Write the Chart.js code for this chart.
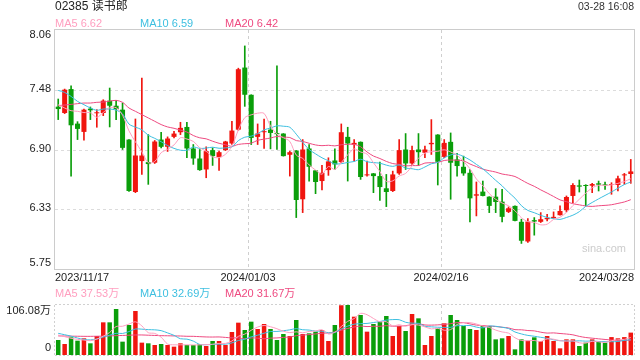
<!DOCTYPE html>
<html>
<head>
<meta charset="utf-8">
<script src="https://cdn.jsdelivr.net/npm/chart.js@4/dist/chart.umd.min.js"></script>
<style>
  body { margin: 0; background: #fff; }
  #wrap { position: relative; width: 640px; height: 360px; }
  canvas { position: absolute; left: 0; }
  #price { top: 0; }
  #volume { top: 280px; }
</style>
</head>
<body>
<div id="wrap">
  <canvas id="price" width="640" height="290"></canvas>
  <canvas id="volume" width="640" height="80"></canvas>
</div>
<script>
// Daily candles, 02385 读书郎
const dates = [
    '2023/11/17','2023/11/20','2023/11/21','2023/11/22','2023/11/23','2023/11/24','2023/11/27','2023/11/28','2023/11/29','2023/11/30',
    '2023/12/01','2023/12/04','2023/12/05','2023/12/06','2023/12/07','2023/12/08','2023/12/11','2023/12/12','2023/12/13','2023/12/14',
    '2023/12/15','2023/12/18','2023/12/19','2023/12/20','2023/12/21','2023/12/22','2023/12/27','2023/12/28','2023/12/29','2024/01/02',
    '2024/01/03','2024/01/04','2024/01/05','2024/01/08','2024/01/09','2024/01/10','2024/01/11','2024/01/12','2024/01/15','2024/01/16',
    '2024/01/17','2024/01/18','2024/01/19','2024/01/22','2024/01/23','2024/01/24','2024/01/25','2024/01/26','2024/01/29','2024/01/30',
    '2024/01/31','2024/02/01','2024/02/02','2024/02/05','2024/02/06','2024/02/07','2024/02/08','2024/02/09','2024/02/14','2024/02/15',
    '2024/02/16','2024/02/19','2024/02/20','2024/02/21','2024/02/22','2024/02/23','2024/02/26','2024/02/27','2024/02/28','2024/02/29',
    '2024/03/01','2024/03/04','2024/03/05','2024/03/06','2024/03/07','2024/03/08','2024/03/11','2024/03/12','2024/03/13','2024/03/14',
    '2024/03/15','2024/03/18','2024/03/19','2024/03/20','2024/03/21','2024/03/22','2024/03/25','2024/03/26','2024/03/27','2024/03/28'
];

const opens = [
    7.319,7.258,7.489,7.155,7.075,7.300,7.255,7.258,7.377,7.328,
    7.290,7.001,6.494,6.793,6.783,6.777,7.001,6.931,7.027,7.072,
    7.123,6.915,6.818,6.712,6.899,6.831,6.899,6.963,7.097,7.697,
    7.434,7.027,7.072,7.097,7.059,7.059,6.854,6.895,6.424,6.915,
    6.703,6.600,6.706,6.799,6.783,7.027,6.953,6.979,6.655,6.674,
    6.648,6.530,6.504,6.674,6.905,6.770,6.905,6.873,6.956,7.049,
    6.834,6.979,6.809,6.738,6.680,6.459,6.498,6.449,6.449,6.401,
    6.302,6.360,6.206,6.016,6.222,6.206,6.231,6.241,6.270,6.318,
    6.456,6.558,6.558,6.555,6.578,6.568,6.562,6.562,6.655,6.668
];
const highs = [
    7.393,7.489,7.521,7.174,7.296,7.316,7.290,7.386,7.499,7.380,
    7.354,7.001,7.200,7.595,7.049,6.992,7.072,7.027,7.081,7.168,
    7.168,6.953,6.905,6.931,6.921,6.889,6.985,7.178,7.691,7.906,
    7.434,7.152,7.200,7.178,7.713,7.059,6.889,6.895,7.001,6.953,
    6.703,6.751,6.825,6.911,7.152,7.120,7.001,6.979,6.793,6.674,
    6.783,6.664,6.696,7.001,7.059,6.937,7.059,6.937,7.194,7.049,
    7.001,7.065,6.867,6.841,6.712,6.591,6.600,6.449,6.527,6.520,
    6.350,6.360,6.231,6.238,6.247,6.295,6.279,6.302,6.360,6.456,
    6.575,6.610,6.565,6.578,6.600,6.591,6.584,6.648,6.674,6.809
];
const lows = [
    7.194,7.252,6.648,7.001,6.995,7.194,7.120,7.232,7.123,7.194,
    6.905,6.501,6.488,6.664,6.568,6.770,6.921,6.886,7.017,7.049,
    6.825,6.761,6.703,6.632,6.751,6.703,6.895,6.953,7.091,7.322,
    6.953,6.953,6.915,6.911,6.905,6.841,6.648,6.247,6.295,6.600,
    6.478,6.514,6.655,6.712,6.777,6.600,6.793,6.616,6.648,6.488,
    6.414,6.353,6.498,6.664,6.712,6.761,6.751,6.825,6.857,6.562,
    6.825,6.424,6.648,6.655,6.206,6.263,6.456,6.295,6.295,6.206,
    6.295,6.215,5.997,6.007,6.077,6.199,6.215,6.241,6.270,6.302,
    6.392,6.494,6.360,6.488,6.504,6.520,6.472,6.504,6.568,6.578
];
const closes = [
    7.296,7.483,7.139,7.104,7.290,7.284,7.261,7.377,7.328,7.296,
    6.921,6.504,6.847,6.847,6.764,6.982,6.931,7.011,7.059,7.114,
    6.915,6.818,6.706,6.889,6.841,6.879,6.982,7.088,7.681,7.434,
    7.017,7.059,7.078,7.065,7.053,6.841,6.879,6.417,6.905,6.738,
    6.591,6.680,6.790,6.761,7.072,6.963,6.969,6.639,6.664,6.648,
    6.542,6.494,6.664,6.899,6.770,6.899,6.879,6.905,6.969,6.786,
    6.969,6.777,6.745,6.674,6.433,6.472,6.456,6.360,6.398,6.254,
    6.337,6.215,6.023,6.209,6.209,6.231,6.244,6.254,6.311,6.446,
    6.562,6.546,6.552,6.571,6.565,6.558,6.571,6.626,6.661,6.693
];

const ma5 = [
    7.338,7.306,7.280,7.274,7.262,7.260,7.216,7.263,7.308,7.309,
    7.237,7.085,6.979,6.883,6.777,6.789,6.874,6.907,6.949,7.019,
    7.006,6.983,6.922,6.888,6.834,6.827,6.859,6.936,7.094,7.213,
    7.240,7.256,7.254,7.131,7.054,7.019,6.983,6.851,6.819,6.756,
    6.706,6.666,6.741,6.712,6.779,6.853,6.911,6.881,6.861,6.777,
    6.692,6.597,6.602,6.649,6.674,6.745,6.822,6.870,6.884,6.888,
    6.902,6.881,6.849,6.790,6.720,6.620,6.556,6.479,6.424,6.388,
    6.361,6.313,6.245,6.208,6.199,6.177,6.183,6.229,6.250,6.297,
    6.363,6.424,6.483,6.535,6.559,6.558,6.563,6.578,6.596,6.622
];
const ma10 = [
    7.476,7.457,7.418,7.370,7.338,7.306,7.284,7.296,7.296,7.286,
    7.249,7.151,7.121,7.096,7.043,7.013,6.980,6.943,6.916,6.898,
    6.898,6.929,6.915,6.919,6.927,6.917,6.921,6.929,6.991,7.024,
    7.034,7.058,7.095,7.113,7.134,7.130,7.120,7.053,6.975,6.905,
    6.863,6.825,6.796,6.766,6.768,6.780,6.789,6.811,6.787,6.778,
    6.773,6.754,6.742,6.755,6.726,6.719,6.710,6.736,6.767,6.781,
    6.824,6.852,6.860,6.837,6.804,6.761,6.719,6.664,6.607,6.554,
    6.491,6.435,6.362,6.316,6.294,6.269,6.248,6.237,6.229,6.248,
    6.270,6.304,6.356,6.393,6.428,6.461,6.494,6.531,6.566,6.591
];
const ma20 = [
    7.329,7.335,7.341,7.348,7.354,7.354,7.361,7.364,7.373,7.380,
    7.361,7.306,7.274,7.242,7.210,7.178,7.146,7.123,7.110,7.092,
    7.074,7.040,7.018,7.008,6.985,6.965,6.951,6.936,6.954,6.961,
    6.966,6.994,7.005,7.016,7.031,7.024,7.021,6.991,6.983,6.965,
    6.949,6.942,6.946,6.940,6.951,6.955,6.955,6.932,6.881,6.842,
    6.818,6.790,6.769,6.761,6.747,6.750,6.750,6.774,6.777,6.780,
    6.799,6.803,6.801,6.796,6.765,6.740,6.715,6.700,6.687,6.668,
    6.658,6.644,6.611,6.577,6.549,6.515,6.484,6.451,6.418,6.401,
    6.381,6.370,6.359,6.355,6.361,6.365,6.371,6.384,6.398,6.420
];

// volume, in 万 shares
const volumes = [
    31.8,23.3,37.5,30.4,35.4,24.8,40.3,69.3,69.3,97.6,
    28.3,63.6,93.4,26.2,24.8,21.2,23.3,21.2,17.7,24.8,
    21.2,21.2,23.3,19.1,29.7,29.7,21.2,48.8,68.6,53.0,
    70.7,55.2,65.8,55.2,31.8,44.6,40.3,74.3,44.6,46.0,
    49.5,53.0,29.7,63.6,105.5,106.08,81.3,84.9,49.5,65.8,
    70.7,82.7,40.3,61.5,50.9,87.0,77.8,21.2,40.3,56.6,
    67.2,84.9,74.3,61.5,55.2,53.0,61.5,61.5,33.2,35.4,
    40.3,12.0,33.2,30.4,37.5,29.7,40.3,29.7,14.1,33.2,
    33.2,19.1,26.2,33.2,28.3,26.2,38.0,35.4,38.0,47.5
];
const volMa5 = [
    42.4,38.9,35.4,33.2,31.7,30.3,33.7,40.0,47.8,60.3,
    61.0,65.6,70.4,61.8,47.3,45.8,37.8,23.3,21.6,21.6,
    21.6,21.2,21.6,21.9,22.9,24.6,24.6,29.7,39.6,44.3,
    52.5,59.3,62.7,60.0,55.7,50.5,47.5,49.2,47.1,50.0,
    50.9,53.5,44.6,48.4,60.3,71.6,77.2,88.3,85.5,77.5,
    70.4,70.7,61.8,64.2,61.2,64.5,63.5,59.7,55.4,56.6,
    52.6,54.0,64.7,68.9,68.6,65.8,61.1,58.5,52.9,48.9,
    46.4,36.5,30.8,30.3,30.7,28.6,34.2,33.5,30.3,29.4,
    30.1,25.9,25.2,29.0,28.0,26.6,30.4,32.2,33.2,37.0
];
const volMa10 = [
    46.0,43.0,40.0,36.0,33.0,32.0,34.0,38.0,42.0,46.0,
    45.7,49.7,55.2,54.8,53.8,53.4,51.7,46.9,41.7,34.5,
    33.7,29.5,22.5,21.8,22.3,23.1,22.9,25.7,30.8,33.6,
    38.6,42.0,46.2,49.8,50.0,51.5,53.4,56.0,53.6,52.9,
    50.7,50.5,46.9,47.8,55.2,61.3,65.4,66.5,67.0,68.9,
    71.0,74.0,75.1,74.9,69.4,67.5,67.1,60.8,59.8,58.9,
    58.6,58.8,62.2,62.2,62.6,59.2,57.6,61.6,60.9,58.8,
    56.1,48.8,44.7,41.6,39.8,37.5,35.4,32.2,30.3,30.1,
    29.4,30.1,29.4,29.7,28.7,28.4,28.2,28.7,31.1,32.5
];
const volMa20 = [
    40.5,40.3,40.0,39.8,39.6,39.6,39.8,40.0,40.5,41.0,
    41.5,42.0,42.5,42.5,42.0,41.5,41.0,40.8,40.5,40.3,
    39.7,39.6,38.9,38.3,38.1,38.3,37.3,36.3,36.3,34.1,
    36.2,35.8,34.4,35.8,36.2,37.3,38.2,40.9,42.2,43.3,
    44.7,46.3,46.6,48.8,52.6,56.4,59.4,61.3,60.3,60.9,
    60.9,62.3,61.0,61.4,62.3,64.4,66.3,63.7,63.4,63.9,
    64.8,66.4,68.7,68.6,66.0,63.4,62.4,61.2,60.4,58.9,
    57.4,53.8,53.5,51.9,51.2,48.4,46.5,46.9,45.6,44.5,
    42.8,39.5,37.1,35.7,34.3,33.0,31.8,30.5,30.7,31.3
];

const priceTicks = [5.75, 6.3275, 6.905, 7.4825, 8.06];
const priceTickLabels = ['5.75', '6.33', '6.90', '7.48', '8.06'];
const volMax = 106.08;
const volTickLabels = ['0', '106.08万'];
const xTickDates = ['2023/11/17', '2024/01/03', '2024/02/16', '2024/03/28'];
const priceLegend = ['MA5 6.62', 'MA10 6.59', 'MA20 6.42'];
const volLegend = ['MA5 37.53万', 'MA10 32.69万', 'MA20 31.67万'];

const UP = '#f0150f';
const DOWN = '#0a9e0a';
const MA_COLORS = ['#ff9ebf', '#3dbfe0', '#ee4a80'];
const FONT = "'Liberation Sans', Arial, 'Noto Sans CJK SC', sans-serif";

const isUp = closes.map((v, i) => v >= opens[i]);
const candleColors = isUp.map(u => u ? UP : DOWN);

function text(ctx, str, x, y, size, color, align) {
    ctx.font = size + 'px ' + FONT;
    ctx.fillStyle = color;
    ctx.textAlign = align || 'left';
    ctx.textBaseline = 'middle';
    ctx.fillText(str, x, y);
}

function line(ctx, x1, y1, x2, y2) {
    ctx.beginPath();
    ctx.moveTo(x1, y1);
    ctx.lineTo(x2, y2);
    ctx.stroke();
}

// left edge of the slot a date occupies
function slotEdge(xScale, idx, side) {
    const half = (xScale.getPixelForValue(1) - xScale.getPixelForValue(0)) / 2;
    return xScale.getPixelForValue(idx) + (side === 'right' ? half : -half);
}

function drawDividers(chart, dash) {
    const { ctx, chartArea: a, scales: { x } } = chart;
    ctx.save();
    ctx.strokeStyle = '#cfcfcf';
    ctx.lineWidth = 1;
    ctx.setLineDash(dash);
    xTickDates.slice(1, -1).forEach(d => {
        const px = Math.round(slotEdge(x, dates.indexOf(d))) + 0.5;
        line(ctx, px, a.top, px, a.bottom);
    });
    ctx.restore();
}

const priceDecor = {
    id: 'priceDecor',
    beforeDatasetsDraw(chart) {
        const { ctx, chartArea: a, scales: { y } } = chart;
        ctx.save();
        ctx.strokeStyle = '#dcdcdc';
        ctx.lineWidth = 1;
        ctx.setLineDash([3, 3]);
        priceTicks.slice(1, -1).forEach(v => {
            const py = Math.round(y.getPixelForValue(v)) + 0.5;
            line(ctx, a.left, py, a.right, py);
        });
        ctx.restore();
        drawDividers(chart, [3, 3]);
        ctx.save();
        ctx.strokeStyle = '#cccccc';
        ctx.lineWidth = 1;
        ctx.strokeRect(a.left - 0.5, a.top - 0.5, a.right - a.left + 1, a.bottom - a.top + 1);
        ctx.restore();
    },
    afterDraw(chart) {
        const { ctx, chartArea: a, scales: { x, y } } = chart;
        ctx.save();
        text(ctx, '02385 读书郎', 55, 7, 12, '#222');
        text(ctx, '03-28 16:08', 634, 7, 10.5, '#333', 'right');
        [55, 140, 225].forEach((px, i) => text(ctx, priceLegend[i], px, 24, 11, MA_COLORS[i]));
        priceTicks.forEach((v, i) => {
            let py = y.getPixelForValue(v);
            if (i === priceTicks.length - 1) py += 5;
            else if (i === 0) py -= 6;
            else py -= 1;
            text(ctx, priceTickLabels[i], 51, py, 11, '#222', 'right');
        });
        xTickDates.forEach((d, i) => {
            const idx = dates.indexOf(d);
            if (i === 0) text(ctx, d, slotEdge(x, idx), 278, 11, '#222', 'left');
            else if (i === xTickDates.length - 1) text(ctx, d, slotEdge(x, idx, 'right'), 278, 11, '#222', 'right');
            else text(ctx, d, slotEdge(x, idx), 278, 11, '#222', 'center');
        });
        text(ctx, 'sina.com', 582, 249, 11, '#cccccc');
        ctx.restore();
    }
};

const volDecor = {
    id: 'volDecor',
    beforeDatasetsDraw(chart) {
        const { ctx, chartArea: a } = chart;
        ctx.save();
        ctx.strokeStyle = '#d0d0d0';
        ctx.lineWidth = 1;
        ctx.setLineDash([2, 2]);
        line(ctx, a.left, a.top - 0.5, a.right, a.top - 0.5);
        line(ctx, a.left, a.bottom + 0.5, a.right, a.bottom + 0.5);
        line(ctx, a.left - 0.5, a.top, a.left - 0.5, a.bottom);
        line(ctx, a.right + 0.5, a.top, a.right + 0.5, a.bottom);
        ctx.restore();
        drawDividers(chart, [3, 3]);
    },
    afterDraw(chart) {
        const { ctx, chartArea: a } = chart;
        ctx.save();
        [55, 140, 225].forEach((px, i) => text(ctx, volLegend[i], px, 14, 11, MA_COLORS[i]));
        text(ctx, volTickLabels[1], 51, a.top + 6, 11, '#222', 'right');
        text(ctx, volTickLabels[0], 51, a.bottom - 7, 11, '#222', 'right');
        ctx.restore();
    }
};

function maLine(label, data, color) {
    return {
        type: 'line',
        label: label,
        data: data,
        borderColor: color,
        borderWidth: 1,
        pointRadius: 0,
        tension: 0.3,
        order: 0
    };
}

const common = {
    responsive: false,
    animation: false,
    events: [],
    plugins: { legend: { display: false }, tooltip: { enabled: false } }
};

new Chart(document.getElementById('price'), {
    type: 'bar',
    data: {
        labels: dates,
        datasets: [
            {
                label: 'wick',
                data: lows.map((v, i) => [v, highs[i]]),
                backgroundColor: candleColors,
                barThickness: 1,
                grouped: false,
                order: 2
            },
            {
                label: 'body',
                data: opens.map((v, i) => [Math.min(v, closes[i]), Math.max(v, closes[i])]),
                backgroundColor: candleColors,
                categoryPercentage: 1,
                barPercentage: 0.78,
                minBarLength: 1,
                grouped: false,
                order: 1
            },
            maLine('MA5', ma5, MA_COLORS[0]),
            maLine('MA10', ma10, MA_COLORS[1]),
            maLine('MA20', ma20, MA_COLORS[2])
        ]
    },
    options: {
        ...common,
        layout: { padding: { left: 55, right: 6, top: 30, bottom: 21 } },
        scales: {
            x: { display: false, offset: true },
            y: { display: false, min: priceTicks[0], max: priceTicks[priceTicks.length - 1] }
        }
    },
    plugins: [priceDecor]
});

new Chart(document.getElementById('volume'), {
    type: 'bar',
    data: {
        labels: dates,
        datasets: [
            {
                label: 'volume',
                data: volumes,
                backgroundColor: candleColors,
                categoryPercentage: 1,
                barPercentage: 0.7,
                order: 1
            },
            maLine('MA5', volMa5, MA_COLORS[0]),
            maLine('MA10', volMa10, MA_COLORS[1]),
            maLine('MA20', volMa20, MA_COLORS[2])
        ]
    },
    options: {
        ...common,
        layout: { padding: { left: 55, right: 6, top: 25, bottom: 5 } },
        scales: {
            x: { display: false, offset: true },
            y: { display: false, min: 0, max: volMax }
        }
    },
    plugins: [volDecor]
});
</script>
</body>
</html>
